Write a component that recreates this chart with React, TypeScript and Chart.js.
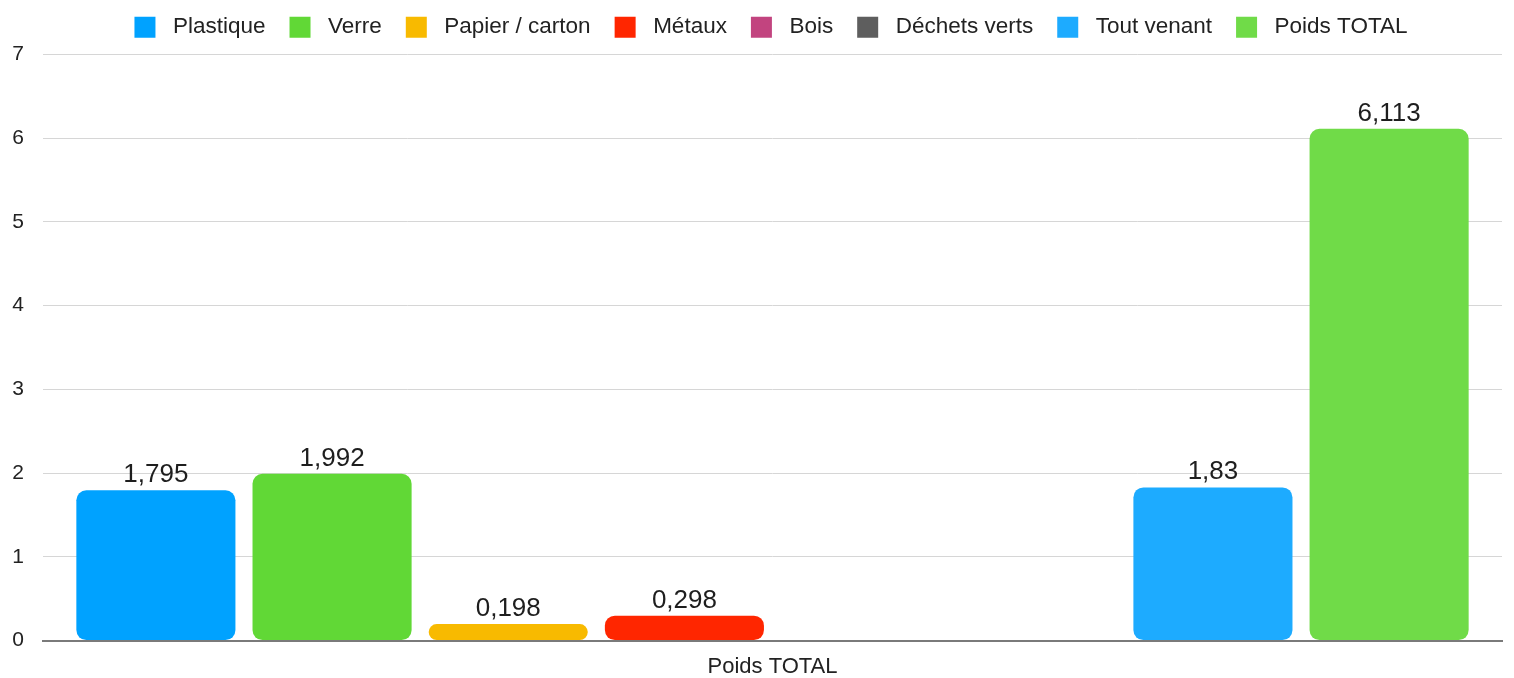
import React, { useEffect, useRef } from "react";
import { Chart, registerables } from "chart.js";

Chart.register(...registerables);

const categories = ["Poids TOTAL"];
const seriesNames = ["Plastique", "Verre", "Papier / carton", "Métaux", "Bois", "Déchets verts", "Tout venant", "Poids TOTAL"];
const seriesValues: (number | null)[] = [1.795, 1.992, 0.198, 0.298, null, null, 1.83, 6.113];
const seriesColors = ["#00A2FF", "#61D836", "#F8BA00", "#FF2600", "#C2447F", "#5E5E5E", "#1DABFF", "#70DB48"];
const yTicks = [0, 1, 2, 3, 4, 5, 6, 7];

const FONT = "'Liberation Sans', Arial, Helvetica, sans-serif";

const valueLabels = {
  id: "valueLabels",
  afterDatasetsDraw(chart: any) {
    const ctx = chart.ctx;
    ctx.save();
    ctx.font = `26px ${FONT}`;
    ctx.fillStyle = "#1e1e1e";
    ctx.textAlign = "center";
    ctx.textBaseline = "alphabetic";
    chart.data.datasets.forEach((ds: any, i: number) => {
      const meta = chart.getDatasetMeta(i);
      meta.data.forEach((el: any, j: number) => {
        const v = ds.data[j];
        if (v === null || v === undefined) return;
        const txt = String(v).replace(".", ",");
        ctx.fillText(txt, el.x, el.y - 8);
      });
    });
    ctx.restore();
  },
};

const legendSpacing = {
  id: "legendSpacing",
  beforeInit(chart: any) {
    const legend = chart.legend;
    if (!legend) return;
    const orig = legend.fit;
    legend.fit = function () {
      orig.call(this);
      this.height += 6;
    };
  },
  afterLayout(chart: any) {
    if (chart.legend) chart.legend.left += 40;
  },
};

export default function App() {
  const ref = useRef<HTMLCanvasElement>(null);
  useEffect(() => {
    if (!ref.current) return;
    const chart = new Chart(ref.current, {
      type: "bar",
      data: {
        labels: categories,
        datasets: seriesNames.map((name, i) => ({
          label: name,
          data: [seriesValues[i]],
          backgroundColor: seriesColors[i],
          borderRadius: 10,
          borderSkipped: false,
          barPercentage: 0.903,
          categoryPercentage: 0.966,
        })),
      },
      options: {
        animation: false,
        responsive: false,
        maintainAspectRatio: false,
        layout: { padding: { left: 0, right: 12, top: -8, bottom: 0 } },
        plugins: {
          legend: {
            position: "top",
            labels: {
              font: { family: FONT, size: 22.5 },
              color: "#222",
              boxWidth: 21,
              boxHeight: 21,
              padding: 24,
              generateLabels: (chart: any) => {
                const items = Chart.defaults.plugins.legend.labels.generateLabels(chart);
                return items.map((it: any) => ({ ...it, text: " " + it.text, lineWidth: 0 }));
              },
            },
          },
          tooltip: { enabled: false },
        },
        scales: {
          x: {
            grid: { display: false },
            border: { display: true, color: "#7a7a7a", width: 2 },
            ticks: { font: { family: FONT, size: 22 }, color: "#222", padding: 5 },
            afterFit: (axis: any) => {
              axis.height = axis.height - 7;
            },
          },
          y: {
            min: 0,
            max: 7,
            afterBuildTicks: (axis: any) => {
              axis.ticks = yTicks.map((v) => ({ value: v }));
            },
            afterFit: (axis: any) => {
              axis.width = 43;
            },
            grid: { color: "#d6d6d6", drawTicks: false, lineWidth: 1 },
            border: { display: false },
            ticks: { font: { family: FONT, size: 21 }, color: "#222", padding: 19 },
          },
        },
      },
      plugins: [valueLabels, legendSpacing],
    });
    return () => chart.destroy();
  }, []);
  return (
    <div style={{ position: "fixed", left: 0, top: 0, width: 1514, height: 678, background: "#fff" }}>
      <canvas ref={ref} width={1514} height={678} />
    </div>
  );
}
